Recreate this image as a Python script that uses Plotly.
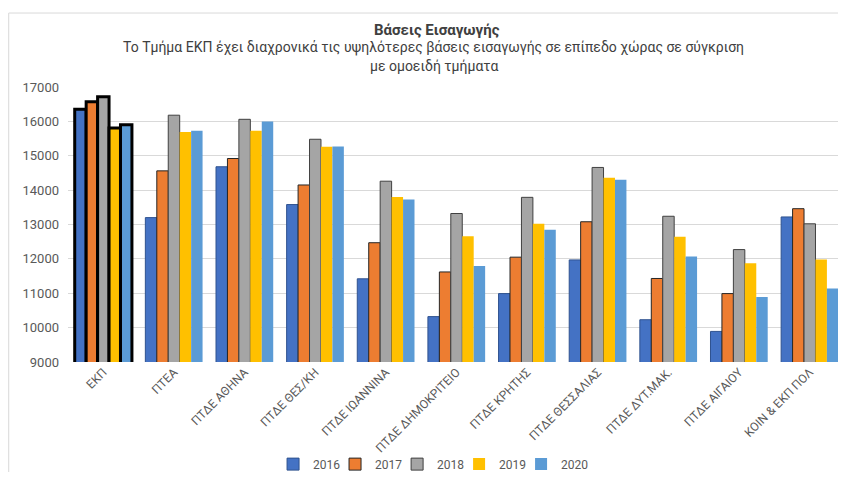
import plotly.graph_objects as go

categories = ["ΕΚΠ", "ΠΤΕΑ", "ΠΤΔΕ ΑΘΗΝΑ", "ΠΤΔΕ ΘΕΣ/ΚΗ", "ΠΤΔΕ ΙΩΑΝΝΙΝΑ",
              "ΠΤΔΕ ΔΗΜΟΚΡΙΤΕΙΟ", "ΠΤΔΕ ΚΡΗΤΗΣ", "ΠΤΔΕ ΘΕΣΣΑΛΙΑΣ",
              "ΠΤΔΕ ΔΥΤ.ΜΑΚ.", "ΠΤΔΕ ΑΙΓΑΙΟΥ", "ΚΟΙΝ & ΕΚΠ ΠΟΛ"]

years = ["2016", "2017", "2018", "2019", "2020"]

v2016 = [16350, 13200, 14680, 13580, 11420, 10320, 10990, 11970, 10230, 9890, 13220]
v2017 = [16570, 14560, 14920, 14150, 12470, 11620, 12050, 13080, 11430, 10990, 13460]
v2018 = [16720, 16180, 16060, 15480, 14260, 13320, 13790, 14660, 13240, 12270, 13020]
v2019 = [15810, 15690, 15730, 15260, 13800, 12660, 13020, 14360, 12640, 11870, 11980]
v2020 = [15900, 15730, 16000, 15270, 13730, 11790, 12850, 14300, 12070, 10890, 11140]

values = [v2016, v2017, v2018, v2019, v2020]

FONT = "Roboto"
TXT = "#595959"
colors = ["#4472C4", "#ED7D31", "#A5A5A5", "#FFC000", "#5B9BD5"]
# thin outline per series (None = no outline); ΕΚΠ gets a heavy black border
outline = ["#2F528F", "#262626", "#404040", None, None]

fig = go.Figure()
legend_names = ["legend", "legend2", "legend3", "legend4", "legend5"]
for yr, vals, col, oc, lg in zip(years, values, colors, outline, legend_names):
    # ΕΚΠ moved to the end of the data so the legend swatch takes the
    # style of an ordinary bar; display order comes from categoryarray
    xs = categories[1:] + categories[:1]
    ys = vals[1:] + vals[:1]
    n = len(ys)
    lc = [oc if oc else col] * (n - 1) + ["#000000"]
    lw = [1 if oc else 0] * (n - 1) + [3]
    fig.add_trace(go.Bar(
        x=xs, y=ys, name=yr, legend=lg,
        marker=dict(color=col, line=dict(color=lc, width=lw)),
    ))

# page body has an 8px margin, so the figure is 830x464 placed at (8, 8)
fig.update_layout(
    width=830, height=464,
    margin=dict(l=60, r=0, t=79, b=110),
    paper_bgcolor="white", plot_bgcolor="white",
    barmode="group", bargap=0.19, bargroupgap=0,
    font=dict(family=FONT, size=12, color=TXT),
    showlegend=True,
    xaxis=dict(tickangle=-45, showgrid=False, showline=False, ticks="",
               automargin=False, categoryorder="array", categoryarray=categories,
               range=[-0.5, 10.4], tickfont=dict(size=12, color=TXT)),
    yaxis=dict(range=[9000, 17000], dtick=1000, tickformat="d",
               gridcolor="#D9D9D9", gridwidth=1,
               zeroline=False, showline=False, ticks="", automargin=False,
               tickfont=dict(size=13, color=TXT), ticklabelstandoff=8),
    shapes=[dict(type="rect", xref="paper", yref="paper",
                 x0=-0.077, x1=1.05, y0=-0.5, y1=1.269,
                 line=dict(color="#D9D9D9", width=1), layer="below")],
)

# one small legend per year, spaced like the original's compact key
legend_x = [0.2663, 0.3468, 0.4274, 0.5079, 0.5884]
for lg, lx in zip(legend_names, legend_x):
    fig.update_layout({lg: dict(orientation="h", xref="paper", x=lx, xanchor="left",
                                yref="container", y=0.017, yanchor="middle",
                                font=dict(size=12, color=TXT), itemwidth=30,
                                bgcolor="rgba(0,0,0,0)")})

fig.add_annotation(text="<b>Βάσεις Εισαγωγής</b>", xref="paper", yref="paper",
                   x=0.479, y=1.207, showarrow=False, yanchor="middle",
                   font=dict(size=15, color="#404040", family=FONT))
fig.add_annotation(text="Το Τμήμα ΕΚΠ έχει διαχρονικά τις υψηλότερες βάσεις εισαγωγής σε επίπεδο χώρας σε σύγκριση",
                   xref="paper", yref="paper", x=0.475, y=1.142, showarrow=False,
                   yanchor="middle", font=dict(size=14, color="#404040", family=FONT))
fig.add_annotation(text="με ομοειδή τμήματα", xref="paper", yref="paper",
                   x=0.475, y=1.076, showarrow=False, yanchor="middle",
                   font=dict(size=14, color="#404040", family=FONT))

fig.write_html("out.html")
